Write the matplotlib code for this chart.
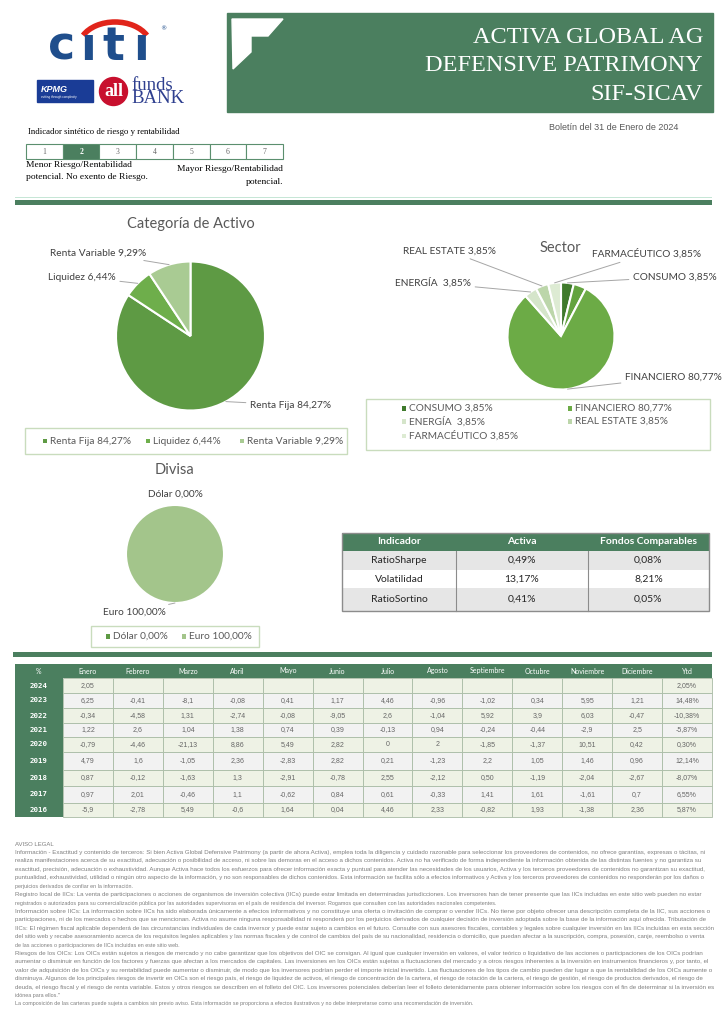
import matplotlib
matplotlib.use("Agg")
import matplotlib.pyplot as plt
from matplotlib.patches import Rectangle, Polygon, Circle, Arc
import numpy as np

# ---------------- data ----------------
title_lines = ["ACTIVA GLOBAL AG", "DEFENSIVE PATRIMONY", "SIF-SICAV"]
bulletin = "Boletín del 31 de Enero de 2024"
risk_levels = [1, 2, 3, 4, 5, 6, 7]
risk_selected = 2

asset_labels = ["Renta Fija", "Liquidez", "Renta Variable"]
asset_values = [84.27, 6.44, 9.29]
asset_colors = ["#5E9A44", "#6EAE4B", "#A9CB93"]

sector_labels = ["CONSUMO", "", "FINANCIERO", "ENERGÍA ", "REAL ESTATE", "FARMACÉUTICO"]
sector_values = [3.85, 3.83, 80.77, 3.85, 3.85, 3.85]
sector_colors = ["#3F7A2C", "#63A33F", "#6CAB46", "#D5E5CA", "#BCD6AA", "#DDEBD3"]

currency_labels = ["Dólar", "Euro"]
currency_values = [0.00, 100.00]
currency_colors = ["#5E9A44", "#A3C58B"]

ind_header = ["Indicador", "Activa", "Fondos Comparables"]
ind_names = ["RatioSharpe", "Volatilidad", "RatioSortino"]
ind_activa = ["0,49%", "13,17%", "0,41%"]
ind_comp = ["0,08%", "8,21%", "0,05%"]

months = ["Enero", "Febrero", "Marzo", "Abril", "Mayo", "Junio", "Julio", "Agosto",
          "Septiembre", "Octubre", "Noviembre", "Diciembre", "Ytd"]
years = ["2024", "2023", "2022", "2021", "2020", "2019", "2018", "2017", "2016"]
r2024 = ["2,05", "", "", "", "", "", "", "", "", "", "", "", "2,05%"]
r2023 = ["6,25", "-0,41", "-8,1", "-0,08", "0,41", "1,17", "4,46", "-0,96", "-1,02", "0,34", "5,95", "1,21", "14,48%"]
r2022 = ["-0,34", "-4,58", "1,31", "-2,74", "-0,08", "-9,05", "2,6", "-1,04", "5,92", "3,9", "6,03", "-0,47", "-10,38%"]
r2021 = ["1,22", "2,6", "1,04", "1,38", "0,74", "0,39", "-0,13", "0,94", "-0,24", "-0,44", "-2,9", "2,5", "-5,87%"]
r2020 = ["-0,79", "-4,46", "-21,13", "8,86", "5,49", "2,82", "0", "2", "-1,85", "-1,37", "10,51", "0,42", "0,30%"]
r2019 = ["4,79", "1,6", "-1,05", "2,36", "-2,83", "2,82", "0,21", "-1,23", "2,2", "1,05", "1,46", "0,96", "12,14%"]
r2018 = ["0,87", "-0,12", "-1,63", "1,3", "-2,91", "-0,78", "2,55", "-2,12", "0,50", "-1,19", "-2,04", "-2,67", "-8,07%"]
r2017 = ["0,97", "2,01", "-0,46", "1,1", "-0,62", "0,84", "0,61", "-0,33", "1,41", "1,61", "-1,61", "0,7", "6,55%"]
r2016 = ["-5,9", "-2,78", "5,49", "-0,6", "1,64", "0,04", "4,46", "2,33", "-0,82", "1,93", "-1,38", "2,36", "5,87%"]
returns = [r2024, r2023, r2022, r2021, r2020, r2019, r2018, r2017, r2016]

legal_lines = [
    "Información - Exactitud y contenido de terceros: Si bien Activa Global Defensive Patrimony (a partir de ahora Activa), emplea toda la diligencia y cuidado razonable para seleccionar los proveedores de contenidos, no ofrece garantías, expresas o tácitas, ni",
    "realiza manifestaciones acerca de su exactitud, adecuación o posibilidad de acceso, ni sobre las demoras en el acceso a dichos contenidos. Activa no ha verificado de forma independiente la información obtenida de las distintas fuentes y no garantiza su",
    "exactitud, precisión, adecuación o exhaustividad. Aunque Activa hace todos los esfuerzos para ofrecer información exacta y puntual para atender las necesidades de los usuarios, Activa y los terceros proveedores de contenidos no garantizan su exactitud,",
    "puntualidad, exhaustividad, utilidad o ningún otro aspecto de la información, y no son responsables de dichos contenidos. Esta información se facilita sólo a efectos informativos y Activa y los terceros proveedores de contenidos no responderán por los daños o",
    "perjuicios derivados de confiar en la información.",
    "Registro local de IICs: La venta de participaciones o acciones de organismos de inversión colectiva (IICs) puede estar limitada en determinadas jurisdicciones. Los inversores han de tener presente que las IICs incluidas en este sitio web pueden no estar",
    "registrados o autorizados para su comercialización pública por las autoridades supervisoras en el país de residencia del inversor. Rogamos que consulten con las autoridades nacionales competentes.",
    "Información sobre IICs: La información sobre IICs ha sido elaborada únicamente a efectos informativos y no constituye una oferta o invitación de comprar o vender IICs. No tiene por objeto ofrecer una descripción completa de la IIC, sus acciones o",
    "participaciones, ni de los mercados o hechos que se mencionan. Activa no asume ninguna responsabilidad ni responderá por los perjuicios derivados de cualquier decisión de inversión adoptada sobre la base de la información aquí ofrecida. Tributación de",
    "IICs: El régimen fiscal aplicable dependerá de las circunstancias individuales de cada inversor y puede estar sujeto a cambios en el futuro. Consulte con sus asesores fiscales, contables y legales sobre cualquier inversión en las IICs incluidas en esta sección",
    "del sitio web y recabe asesoramiento acerca de los requisitos legales aplicables y las normas fiscales y de control de cambios del país de su nacionalidad, residencia o domicilio, que puedan afectar a la suscripción, compra, posesión, canje, reembolso o venta",
    "de las acciones o participaciones de IICs incluidas en este sitio web.",
    "Riesgos de los OICs: Los OICs están sujetos a riesgos de mercado y no cabe garantizar que los objetivos del OIC se consigan. Al igual que cualquier inversión en valores, el valor teórico o liquidativo de las acciones o participaciones de los OICs podrían",
    "aumentar o disminuir en función de los factores y fuerzas que afectan a los mercados de capitales. Las inversiones en los OICs están sujetas a fluctuaciones del mercado y a otros riesgos inherentes a la inversión en instrumentos financieros y, por tanto, el",
    "valor de adquisición de los OICs y su rentabilidad puede aumentar o disminuir, de modo que los inversores podrían perder el importe inicial invertido. Las fluctuaciones de los tipos de cambio pueden dar lugar a que la rentabilidad de los OICs aumente o",
    "disminuya. Algunos de los principales riesgos de invertir en OICs son el riesgo país, el riesgo de liquidez de activos, el riesgo de concentración de la cartera, el riesgo de rotación de la cartera, el riesgo de gestión, el riesgo de productos derivados, el riesgo de",
    "deuda, el riesgo fiscal y el riesgo de renta variable. Estos y otros riesgos se describen en el folleto del OIC. Los inversores potenciales deberían leer el folleto detenidamente para obtener información sobre los riesgos con el fin de determinar si la inversión es",
    "idónea para ellos.\"",
    "La composición de las carteras puede sujeta a cambios sin previo aviso. Esta información se proporciona a efectos ilustrativos y no debe interpretarse como una recomendación de inversión.",
]
legal_para_end = {4, 6, 11, 17, 18}

# ---------------- figure ----------------
W, H = 725, 1024
GREEN = "#4B7F5F"
SANS = "Lato"
SERIF = "Liberation Serif"
GRAYTXT = "#595959"

fig = plt.figure(figsize=(7.25, 10.24), dpi=100)
ax = fig.add_axes([0, 0, 1, 1])
ax.set_xlim(0, W)
ax.set_ylim(H, 0)
ax.axis("off")


def pct(v):
    return f"{v:.2f}".replace(".", ",") + "%"


# ---- logos ----
citi_blue = "#1F4E8C"
for ch, x in zip("cıtı", [61.5, 88, 113, 141]):
    ax.text(x, 60, ch, fontsize=33, fontweight="heavy", color=citi_blue,
            family="DejaVu Sans", ha="center", va="baseline")
ax.add_patch(Arc((115, 47), 72, 50, theta1=200, theta2=340, color="#E1251B", lw=4))
ax.text(160, 29, "®", fontsize=4.5, color=citi_blue, ha="left", va="center")

ax.add_patch(Rectangle((37, 80), 56, 22, color="#1A3C96"))
ax.text(41, 89, "KPMG", fontsize=6.5, fontweight="bold", style="italic", color="white",
        family="Liberation Sans", ha="left", va="center")
ax.text(41, 97, "cutting through complexity", fontsize=2.2, color="white",
        family="Liberation Sans", ha="left", va="center")
ax.add_patch(Circle((113.5, 91.5), 14, color="#C8102E"))
ax.text(113.5, 91, "all", fontsize=13, fontweight="bold", color="white",
        family=SERIF, ha="center", va="center")
ax.text(131, 92, "funds\nBANK", fontsize=13.5, color="#2E3F8F", family=SERIF,
        ha="left", va="center", linespacing=0.72)

# ---- header box ----
ax.add_patch(Rectangle((227, 13), 486, 99, color=GREEN))
ax.add_patch(Polygon([(232, 19), (283, 19), (268, 36), (251, 36), (251, 52), (233, 69)],
                     closed=True, color="white"))
for line, yb in zip(title_lines, [43, 71, 100]):
    ax.text(703, yb, line, fontsize=17.5, color="white", family=SERIF,
            ha="right", va="baseline")

ax.text(549, 127, bulletin, fontsize=6.5, color=GRAYTXT, family="Liberation Sans",
        ha="left", va="center")

# ---- risk indicator ----
ax.text(28, 132, "Indicador sintético de riesgo y rentabilidad", fontsize=6.3,
        color="black", family=SERIF, ha="left", va="center")
bw = (283 - 26) / len(risk_levels)
for i, lv in enumerate(risk_levels):
    x0 = 26 + i * bw
    sel = lv == risk_selected
    ax.add_patch(Rectangle((x0, 144), bw, 15, facecolor=GREEN if sel else "white",
                           edgecolor="#5B8F6E", lw=0.8))
    ax.text(x0 + bw / 2, 151.5, str(lv), fontsize=5.5, color="white" if sel else "#666666",
            fontweight="bold" if sel else "normal", family=SERIF, ha="center", va="center")
ax.text(26, 165, "Menor Riesgo/Rentabilidad", fontsize=6.8, family=SERIF, ha="left", va="center")
ax.text(26, 177, "potencial. No exento de Riesgo.", fontsize=6.8, family=SERIF, ha="left", va="center")
ax.text(283, 169, "Mayor Riesgo/Rentabilidad", fontsize=6.8, family=SERIF, ha="right", va="center")
ax.text(283, 182, "potencial.", fontsize=6.8, family=SERIF, ha="right", va="center")

# separators
ax.add_patch(Rectangle((15, 196.5), 697, 1.2, color="#C6E6D6", lw=0))
ax.add_patch(Rectangle((15, 199.5), 697, 5.5, color=GREEN, lw=0))
ax.add_patch(Rectangle((13, 651.5), 699, 5, color=GREEN, lw=0))


# ---- pies ----
def pie_axes(cx, cy, r):
    return fig.add_axes([(cx - r) / W, 1 - (cy + r) / H, 2 * r / W, 2 * r / H])


def finish(a):
    a.set_xlim(-1, 1)
    a.set_ylim(-1, 1)
    a.set_aspect("equal")
    a.axis("off")
    a.patch.set_alpha(0)


def leader(a, wedge, text, tx, ty, ha="left", line=True):
    ang = np.deg2rad((wedge.theta1 + wedge.theta2) / 2)
    kw = dict(arrowprops=dict(arrowstyle="-", color="#A6A6A6", lw=0.7,
                              shrinkA=1, shrinkB=0)) if line else {}
    a.annotate(text, xy=(np.cos(ang), np.sin(ang)), xycoords="data",
               xytext=(tx, ty), textcoords=ax.transData, ha=ha, va="center",
               fontsize=7.3, color="#404040", family=SANS, annotation_clip=False, **kw)


wp = dict(edgecolor="white", linewidth=1.5)

# Categoria de Activo
ax.text(190.5, 224, "Categoría de Activo", fontsize=10.5, color=GRAYTXT, family=SANS,
        ha="center", va="center")
a1 = pie_axes(190.5, 336, 74.5)
w1, _ = a1.pie(asset_values, colors=asset_colors, startangle=90, counterclock=False,
               radius=1, wedgeprops=wp)
finish(a1)
pos1 = [(250, 405, "left"), (48, 277, "left"), (50, 253, "left")]
for w, lab, v, (tx, ty, ha) in zip(w1, asset_labels, asset_values, pos1):
    leader(a1, w, f"{lab} {pct(v)}", tx, ty, ha)

# Sector
ax.text(560, 248, "Sector", fontsize=10.5, color=GRAYTXT, family=SANS, ha="center", va="center")
a2 = pie_axes(561, 336, 53.5)
w2, _ = a2.pie(sector_values, colors=sector_colors, startangle=90, counterclock=False,
               radius=1, wedgeprops=wp)
finish(a2)
pos2 = [(633, 277, "left"), None, (625, 377, "left"), (395, 283, "left"),
        (403, 251, "left"), (592, 254, "left")]
for w, lab, v, p in zip(w2, sector_labels, sector_values, pos2):
    if p is None or not lab:
        continue
    leader(a2, w, f"{lab} {pct(v)}", p[0], p[1], p[2])

# Divisa
ax.text(175, 470, "Divisa", fontsize=10.5, color=GRAYTXT, family=SANS, ha="center", va="center")
a3 = pie_axes(175, 554, 49)
w3, _ = a3.pie(currency_values, colors=currency_colors, startangle=90, counterclock=False,
               radius=1, wedgeprops=wp)
finish(a3)
leader(a3, w3[0], f"{currency_labels[0]} {pct(currency_values[0])}", 175, 494, "center", line=False)
leader(a3, w3[1], f"{currency_labels[1]} {pct(currency_values[1])}", 166, 612, "right")


# ---- legends ----
def legend_item(x, y, color, text):
    ax.add_patch(Rectangle((x - 2.3, y - 2.3), 4.6, 4.6, color=color, lw=0))
    ax.text(x + 5, y, text, fontsize=7.3, color=GRAYTXT, family=SANS, ha="left", va="center")


ax.add_patch(Rectangle((25, 428), 322, 26, facecolor="none", edgecolor="#C9DCBD", lw=1))
for x, lab, v, c in zip([45, 148, 242], asset_labels, asset_values, asset_colors):
    legend_item(x, 441, c, f"{lab} {pct(v)}")

ax.add_patch(Rectangle((366, 399), 344, 51, facecolor="none", edgecolor="#C9DCBD", lw=1))
leg_pos = [(404, 408.5), None, (570, 408.5), (404, 421.5), (570, 421.5), (404, 436)]
for p, lab, v, c in zip(leg_pos, sector_labels, sector_values, sector_colors):
    if p is None or not lab:
        continue
    legend_item(p[0], p[1], c, f"{lab} {pct(v)}")

ax.add_patch(Rectangle((91, 626), 168, 21, facecolor="none", edgecolor="#C9DCBD", lw=1))
for x, lab, v, c in zip([108, 184], currency_labels, currency_values, currency_colors):
    legend_item(x, 636.5, c, f"{lab} {pct(v)}")

# ---- indicator table ----
cols = [342, 456, 588, 709]
rows = [533, 551, 570, 588, 611]
ax.add_patch(Rectangle((cols[0], rows[0]), cols[-1] - cols[0], rows[1] - rows[0], color=GREEN, lw=0))
for j, h in enumerate(ind_header):
    ax.text((cols[j] + cols[j + 1]) / 2, (rows[0] + rows[1]) / 2, h, fontsize=7.5,
            fontweight="bold", color="white", family=SANS, ha="center", va="center")
for i, vals in enumerate(zip(ind_names, ind_activa, ind_comp)):
    y0, y1 = rows[i + 1], rows[i + 2]
    ax.add_patch(Rectangle((cols[0], y0), cols[-1] - cols[0], y1 - y0,
                           color="#E6E6E6" if i % 2 == 0 else "white", lw=0))
    for j, t in enumerate(vals):
        ax.text((cols[j] + cols[j + 1]) / 2, (y0 + y1) / 2, t, fontsize=7.5, color="#262626",
                family=SANS, ha="center", va="center")
for x in cols[1:-1]:
    ax.plot([x, x], [rows[1], rows[-1]], color="#8C8C8C", lw=0.8)
ax.add_patch(Rectangle((cols[0], rows[0]), cols[-1] - cols[0], rows[-1] - rows[0],
                       facecolor="none", edgecolor="#8C8C8C", lw=1))

# ---- returns table ----
tx0, tx1, first_w = 15, 712, 48
cw = (tx1 - tx0 - first_w) / len(months)
hy0, hy1 = 664, 678
row_edges = [678, 693, 708, 723, 737, 752, 770, 786, 803, 817]
ax.add_patch(Rectangle((tx0, hy0), tx1 - tx0, hy1 - hy0, color=GREEN, lw=0))
ax.add_patch(Rectangle((tx0, hy1), first_w, row_edges[-1] - hy1, color=GREEN, lw=0))
ax.text(tx0 + first_w / 2, (hy0 + hy1) / 2, "%", fontsize=5, color="white", family=SANS,
        ha="center", va="center")
for j, m in enumerate(months):
    ax.text(tx0 + first_w + (j + 0.5) * cw, (hy0 + hy1) / 2, m, fontsize=5, color="white",
            family=SANS, ha="center", va="center")
for i, (yr, vals) in enumerate(zip(years, returns)):
    y0, y1 = row_edges[i], row_edges[i + 1]
    yc = (y0 + y1) / 2
    ax.text(tx0 + first_w / 2, yc, yr, fontsize=5.3, color="white", fontweight="bold",
            family="DejaVu Sans Mono", ha="center", va="center")
    bg = "#EEF2E5" if i % 2 == 0 else "#F2F2F2"
    for j, t in enumerate(vals):
        x0 = tx0 + first_w + j * cw
        ax.add_patch(Rectangle((x0, y0), cw, y1 - y0, facecolor=bg, edgecolor="#A9BBA5", lw=0.6))
        if t:
            ax.text(x0 + cw / 2, yc, t, fontsize=5, color="#666666", family="Liberation Sans",
                    ha="center", va="center")

# ---- legal text ----
LEG_COL = "#7F7F7F"
ax.text(15, 845, "AVISO LEGAL", fontsize=4.3, color=LEG_COL, family="Liberation Sans",
        ha="left", va="center")
renderer = fig.canvas.get_renderer()
target = 712 - 15
base_fs = 3.9
ly0, ly1 = 852.5, 1004
step = (ly1 - ly0) / (len(legal_lines) - 1)
for k, line in enumerate(legal_lines):
    t = ax.text(15, ly0 + k * step, line, fontsize=base_fs, color=LEG_COL,
                family="Liberation Sans", ha="left", va="center")
    if k not in legal_para_end:
        wpx = t.get_window_extent(renderer).width
        fs = base_fs * target / wpx
        t.set_fontsize(min(max(fs, 3.3), 4.6))

fig.savefig("out.png", dpi=100)
